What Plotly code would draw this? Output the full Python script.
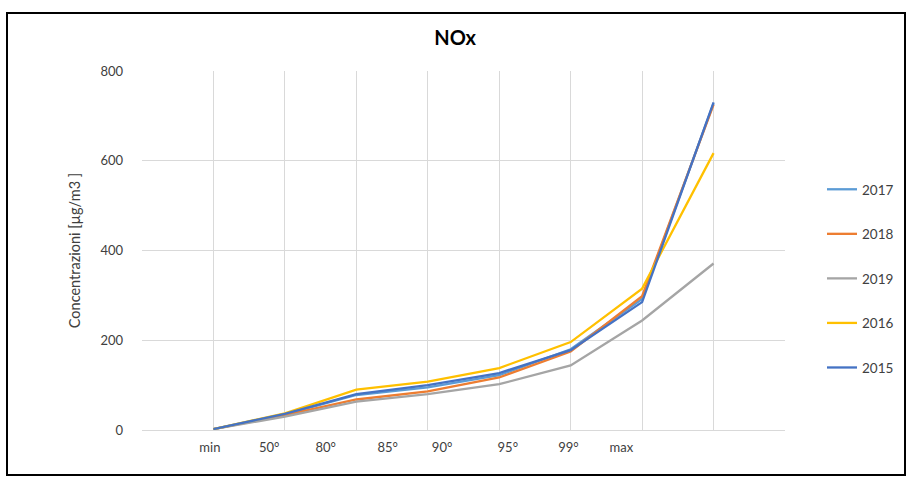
import plotly.graph_objects as go

categories = ["min", "50°", "80°", "85°", "90°", "95°", "99°", "max"]
series_names = ["2017", "2018", "2019", "2016", "2015"]
v2017 = [2, 35, 78, 95, 122, 180, 292, 728]
v2018 = [2, 33, 68, 86, 117, 175, 298, 725]
v2019 = [2, 30, 63, 80, 102, 144, 244, 371]
v2016 = [2, 37, 90, 108, 138, 196, 315, 617]
v2015 = [2, 36, 80, 100, 127, 178, 285, 730]
colors = ["#5B9BD5", "#ED7D31", "#A5A5A5", "#FFC000", "#4472C4"]
values = [v2017, v2018, v2019, v2016, v2015]

# category label positions (labels in the original are offset from the gridlines)
label_pos = [0.95, 1.78, 2.57, 3.44, 4.20, 5.12, 5.97, 6.71]

xs = list(range(1, len(categories) + 1))
fig = go.Figure()
for i, (name, vals, col) in enumerate(zip(series_names, values, colors)):
    fig.add_trace(go.Scatter(x=xs, y=vals, mode="lines", name=name,
                             line=dict(color=col, width=2.3),
                             legendgroup=name))

# invisible trace for the label axis
fig.add_trace(go.Scatter(x=[0, 9], y=[0, 0], xaxis="x2", mode="lines",
                         line=dict(width=0), showlegend=False, hoverinfo="skip"))

W, H = 909, 480
L, R, T, B = 142, 124, 71, 50
pw, ph = W - L - R, H - T - B

def px(x):
    return (x - L) / pw

def py(y):
    return (H - B - y) / ph

FONT = "Lato, Open Sans, sans-serif"
fig.update_layout(
    width=W, height=H,
    margin=dict(l=L, r=R, t=T, b=B, autoexpand=False),
    paper_bgcolor="white", plot_bgcolor="white",
    font=dict(family=FONT, size=13.5, color="#595959"),
    title=dict(text="<b>NOx</b>", x=px(464), xanchor="center", y=1 - 38 / H,
               yanchor="middle", font=dict(size=20, color="#000000")),
    xaxis=dict(range=[0, 9], tickvals=list(range(0, 10)), showticklabels=False,
               showgrid=True, gridcolor="#D9D9D9", gridwidth=1, zeroline=False,
               showline=False, ticks=""),
    xaxis2=dict(range=[0, 9], overlaying="x", tickvals=label_pos, ticktext=categories,
                showgrid=False, zeroline=False, showline=False, ticks="",
                side="bottom", ticklabelstandoff=8,
                tickfont=dict(size=13, color="#404040")),
    yaxis=dict(range=[0, 800], dtick=200, showgrid=True, gridcolor="#D9D9D9",
               zeroline=True, zerolinecolor="#D9D9D9", zerolinewidth=1,
               ticks="", ticklabelstandoff=18,
               tickfont=dict(size=13, color="#404040"),
               title=dict(text="Concentrazioni [µg/m3 ]", standoff=16,
                          font=dict(size=14.5, color="#404040"))),
    legend=dict(x=px(822), y=py(174), xanchor="left", yanchor="top",
                tracegroupgap=24, font=dict(size=13.5, color="#404040"),
                itemwidth=30, bgcolor="rgba(0,0,0,0)"),
    shapes=[dict(type="rect", xref="paper", yref="paper",
                 x0=px(7), x1=px(905), y0=py(475), y1=py(13),
                 line=dict(color="black", width=2), layer="below")],
)

fig.write_html("out.html", config={"displayModeBar": False},
               post_script="document.body.style.margin='0';")
